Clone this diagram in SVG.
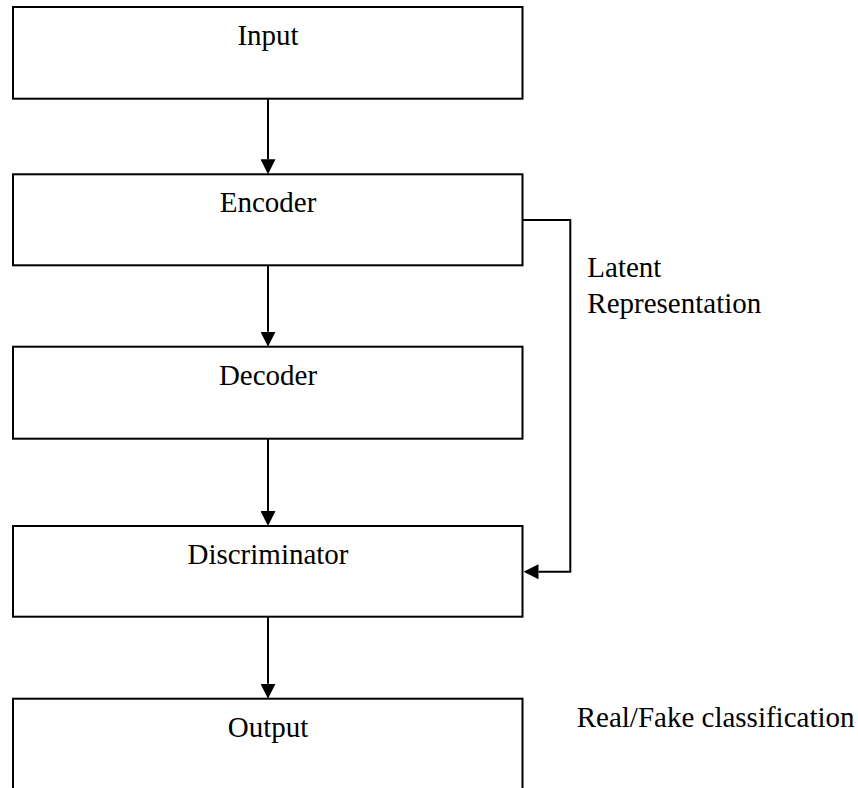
<svg xmlns="http://www.w3.org/2000/svg" width="858" height="788" viewBox="0 0 858 788">
  <style>
    .box { fill: #ffffff; stroke: #000000; stroke-width: 2; }
    .lbl { font-family: "Liberation Serif", "Times New Roman", serif; font-size: 29px; fill: #000000; }
    .ctr { text-anchor: middle; }
    .conn { fill: none; stroke: #000000; stroke-width: 2; }
  </style>
  <defs>
    <marker id="arrow" markerUnits="userSpaceOnUse" markerWidth="15" markerHeight="15" refX="0" refY="7.5" orient="auto" viewBox="0 0 15 15">
      <path d="M0,0 L15,7.5 L0,15 z" fill="#000000"/>
    </marker>
  </defs>
  <rect x="0" y="0" width="858" height="788" fill="#ffffff"/>

  <g id="input">
    <rect class="box" x="13" y="7" width="509.5" height="91.7"/>
    <text class="lbl ctr" x="268" y="45">Input</text>
  </g>
  <g id="encoder">
    <rect class="box" x="13" y="174.3" width="509.5" height="91"/>
    <text class="lbl ctr" x="268" y="212.3">Encoder</text>
  </g>
  <g id="decoder">
    <rect class="box" x="13" y="346.7" width="509.5" height="92"/>
    <text class="lbl ctr" x="268" y="385">Decoder</text>
  </g>
  <g id="discriminator">
    <rect class="box" x="13" y="526" width="509.5" height="90.7"/>
    <text class="lbl ctr" x="268" y="564">Discriminator</text>
  </g>
  <g id="output">
    <rect class="box" x="13" y="698.7" width="509.5" height="92"/>
    <text class="lbl ctr" x="268" y="736.7">Output</text>
  </g>

  <g id="connectors">
    <line class="conn" x1="268" y1="98.7" x2="268" y2="159.3" marker-end="url(#arrow)"/>
    <line class="conn" x1="268" y1="265.3" x2="268" y2="331.7" marker-end="url(#arrow)"/>
    <line class="conn" x1="268" y1="438.7" x2="268" y2="511" marker-end="url(#arrow)"/>
    <line class="conn" x1="268" y1="616.7" x2="268" y2="683.7" marker-end="url(#arrow)"/>
    <polyline class="conn" points="522.5,220 570.3,220 570.3,571.7 538.5,571.7" marker-end="url(#arrow)"/>
  </g>

  <g id="labels">
    <text class="lbl" x="587.3" y="277.3">Latent</text>
    <text class="lbl" x="587.3" y="313.3">Representation</text>
    <text class="lbl" x="576.7" y="727.3">Real/Fake classification</text>
  </g>
</svg>
